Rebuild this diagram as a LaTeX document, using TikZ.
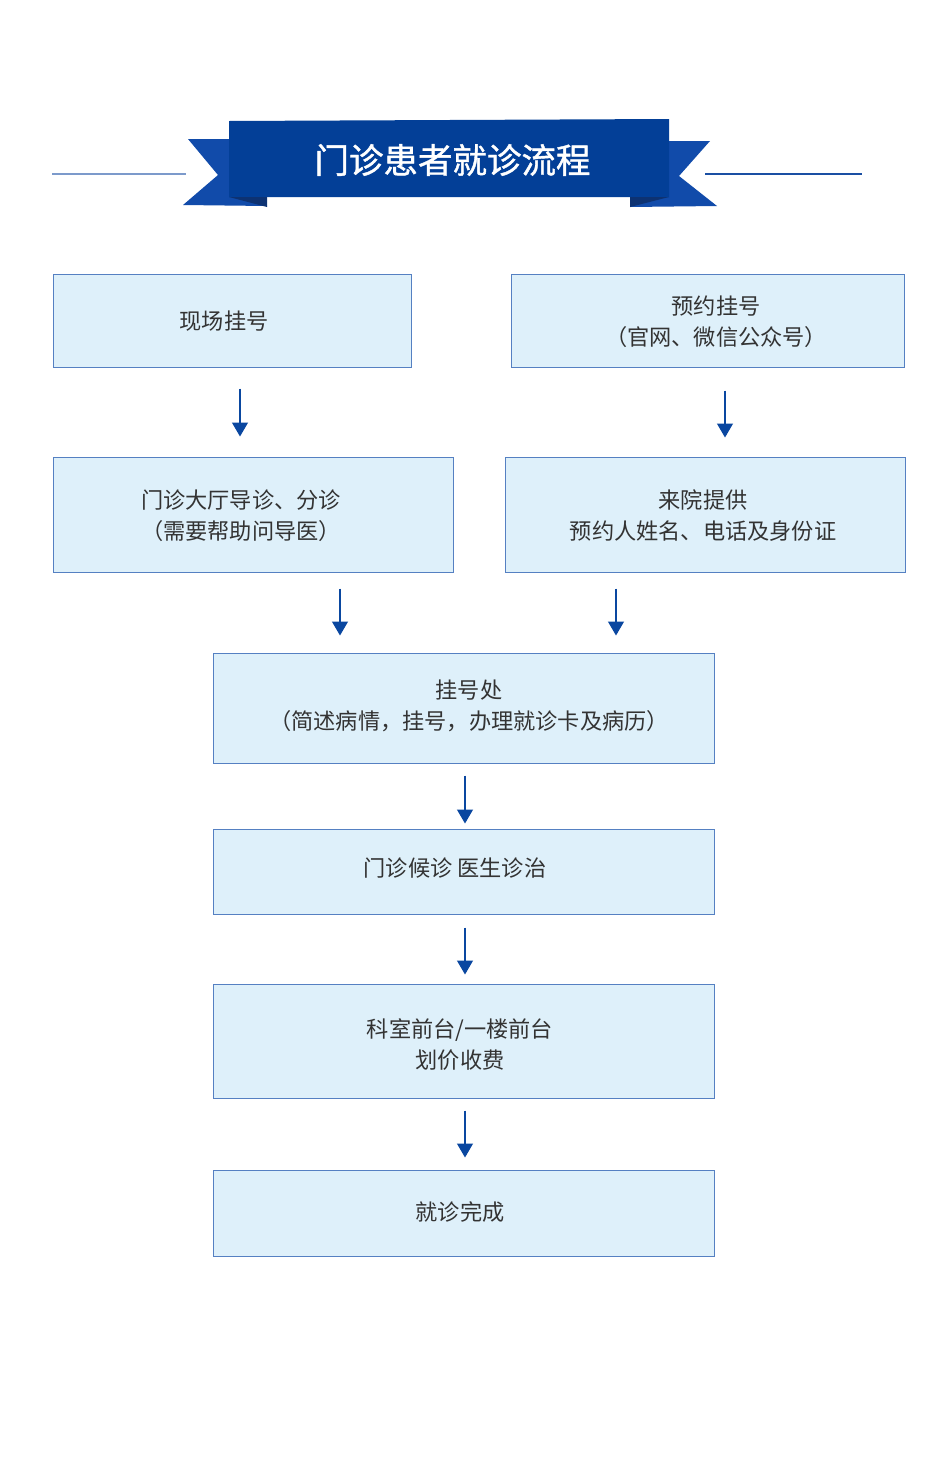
\documentclass[tikz,border=0pt]{standalone}
\usepackage{fontspec}
\setmainfont{Noto Sans CJK SC}
\newfontfamily\titlefont[FakeBold=1.2]{Noto Sans CJK SC}
\usetikzlibrary{arrows.meta,calc}
\definecolor{bannerblue}{HTML}{033F97}
\definecolor{tailblue}{HTML}{114BAA}
\definecolor{folddark}{HTML}{0D3272}
\definecolor{boxfill}{HTML}{DEF0FA}
\definecolor{boxline}{HTML}{5580C2}
\definecolor{arrowblue}{HTML}{0A47A0}
\definecolor{txt}{HTML}{333333}
\definecolor{leftline}{HTML}{7C9ACB}
\definecolor{rightline}{HTML}{1A4FA3}
\tikzset{
  box/.style={draw=boxline, fill=boxfill, line width=1pt, inner sep=0pt},
  lbl/.style={text=txt, font=\fontsize{22.2}{31}\selectfont, align=center, inner sep=0pt},
  arr/.style={draw=arrowblue, line width=1.2pt, -{Triangle[width=16pt,length=14pt]}}
}
\begin{document}
\begin{tikzpicture}[x=1pt,y=-1pt]
\useasboundingbox (0,0) rectangle (948,1465);
\fill[white] (0,0) rectangle (948,1465);
% banner
\draw[leftline, line width=1.5pt] (52,174) -- (186,174);
\draw[rightline, line width=1.5pt] (705,174) -- (862,174);
\fill[tailblue] (188,139) -- (240,139) -- (267,206) -- (183,205) -- (218,175) -- cycle;
\fill[tailblue] (710,141) -- (660,141) -- (630,207) -- (717,206) -- (679,176) -- cycle;
\fill[bannerblue] (229,121) -- (669,119) -- (669,197) -- (229,197) -- cycle;
\fill[folddark] (229,197) -- (267,197) -- (267,207) -- cycle;
\fill[folddark] (669,197) -- (630,197) -- (630,207) -- cycle;
\node[text=white, font=\titlefont\fontsize{34.5}{36}\selectfont, inner sep=0pt] (title) at (452.5,160) {门诊患者就诊流程};
% boxes
\node[box, minimum width=358pt, minimum height=93pt] (b1) at (232,320.5) {};
\node[box, minimum width=393pt, minimum height=93pt] (b2) at (707.5,320.5) {};
\node[box, minimum width=400pt, minimum height=115pt] (b3) at (253,514.5) {};
\node[box, minimum width=400pt, minimum height=115pt] (b4) at (705,514.5) {};
\node[box, minimum width=501pt, minimum height=110pt] (b5) at (463.5,708) {};
\node[box, minimum width=501pt, minimum height=85pt] (b6) at (463.5,871.5) {};
\node[box, minimum width=501pt, minimum height=114pt] (b7) at (463.5,1041) {};
\node[box, minimum width=501pt, minimum height=86pt] (b8) at (463.5,1213) {};
% labels
\node[lbl] (t1) at (224,321) {现场挂号};
\node[lbl] (t2) at (716,322) {预约挂号\\（官网、微信公众号）};
\node[lbl] (t3) at (241,516) {门诊大厅导诊、分诊\\（需要帮助问导医）};
\node[lbl] (t4) at (703,516) {来院提供\\预约人姓名、电话及身份证};
\node[lbl] (t5) at (469,706) {挂号处\\（简述病情，挂号，办理就诊卡及病历）};
\node[lbl] (t6) at (455,868) {门诊候诊 医生诊治};
\node[lbl] (t7) at (460,1045) {科室前台/一楼前台\\划价收费};
\node[lbl] (t8) at (460,1212) {就诊完成};
% arrows
\draw[arr] ($(b1.south)+(8,21)$) -- ($(b3.north)+(-13,-20)$);
\draw[arr] ($(b2.south)+(17.5,23)$) -- ($(b4.north)+(20,-19)$);
\draw[arr] ($(b3.south)+(87,16)$) -- ($(b5.north)+(-123.5,-17)$);
\draw[arr] ($(b4.south)+(-89,16)$) -- ($(b5.north)+(152.5,-17)$);
\draw[arr] ($(b5.south)+(1.5,12)$) -- ($(b6.north)+(1.5,-5)$);
\draw[arr] ($(b6.south)+(1.5,13)$) -- ($(b7.north)+(1.5,-9)$);
\draw[arr] ($(b7.south)+(1.5,12)$) -- ($(b8.north)+(1.5,-12)$);
\end{tikzpicture}
\end{document}
